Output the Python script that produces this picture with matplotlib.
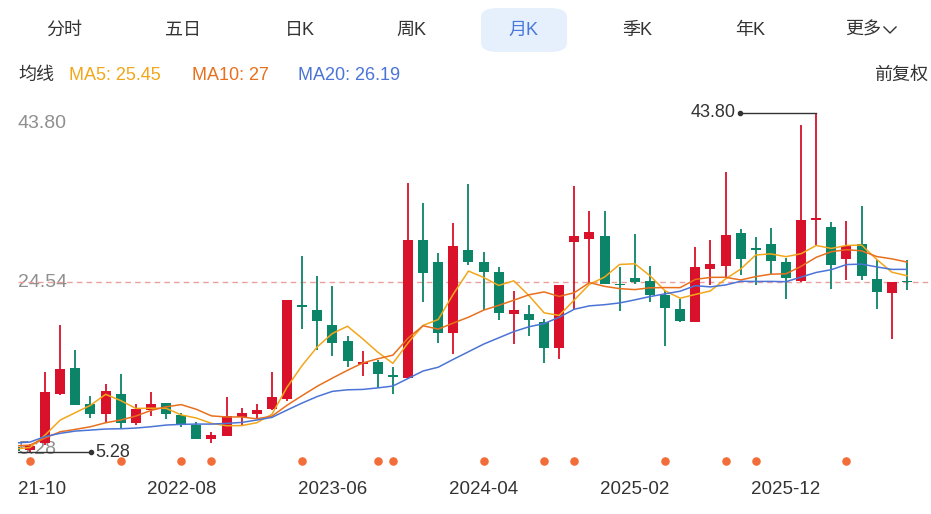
import matplotlib
matplotlib.use("Agg")
import matplotlib.pyplot as plt
import matplotlib.transforms as mtransforms
from matplotlib.patches import FancyBboxPatch
from matplotlib.lines import Line2D
import numpy as np
import pandas as pd

plt.rcParams['font.family'] = ['Liberation Sans', 'Noto Sans CJK SC', 'DejaVu Sans']

# monthly candles, first one (2021-09) is only half visible at the left edge
opens = [5.90, 5.51, 6.33, 11.85, 14.83, 10.75, 9.58, 11.88, 8.53, 10.04,
         10.80, 9.51, 8.30, 6.75, 7.13, 9.28, 9.62, 10.15, 11.25, 21.82,
         21.37, 19.70, 17.85, 15.25, 15.51, 13.86, 13.66, 29.38, 26.80, 18.76,
         28.24, 26.80, 25.67, 20.91, 20.99, 20.04, 17.03, 29.11, 29.49, 29.83,
         24.28, 25.03, 24.65, 23.10, 21.48, 20.04, 26.01, 26.39, 30.12, 28.28,
         28.92, 26.88, 24.65, 31.64, 30.80, 27.18, 28.92, 24.96, 23.33, 24.60]
highs = [6.10, 6.20, 14.34, 19.67, 16.91, 11.59, 12.95, 14.08, 10.72, 12.11,
         10.87, 9.73, 8.64, 7.55, 11.51, 10.23, 10.68, 14.31, 22.58, 27.56,
         25.30, 24.09, 18.42, 16.69, 15.67, 14.94, 35.79, 33.52, 27.90, 31.26,
         35.72, 27.94, 26.27, 23.55, 21.93, 20.35, 24.20, 35.49, 32.58, 32.58,
         26.27, 30.06, 26.39, 23.55, 22.69, 28.54, 29.30, 37.00, 30.54, 29.64,
         30.66, 27.34, 42.33, 43.80, 31.37, 31.45, 33.15, 27.03, 24.57, 27.03]
lows = [5.35, 5.28, 6.07, 11.77, 10.57, 9.17, 8.53, 7.89, 8.34, 9.39,
        9.05, 8.15, 6.72, 6.33, 7.13, 8.34, 8.98, 10.04, 11.09, 19.25,
        16.80, 16.23, 14.94, 13.92, 12.56, 11.82, 13.58, 22.31, 17.66, 16.35,
        26.46, 21.37, 20.31, 17.59, 18.46, 15.33, 15.85, 21.37, 24.46, 24.39,
        21.25, 24.39, 22.35, 17.29, 20.04, 20.04, 24.28, 25.14, 25.41, 24.28,
        25.52, 22.65, 24.57, 28.73, 23.82, 24.84, 24.77, 21.56, 18.16, 23.71]
closes = [5.45, 5.96, 12.04, 14.65, 10.64, 9.62, 12.16, 8.53, 10.19, 10.75,
          9.58, 8.42, 6.75, 7.17, 9.39, 9.66, 10.04, 11.51, 22.58, 21.72,
          20.20, 17.66, 15.59, 15.48, 14.15, 13.80, 29.30, 25.56, 18.76, 28.65,
          26.80, 25.67, 21.03, 21.37, 20.27, 17.03, 24.20, 29.83, 30.20, 24.39,
          24.20, 24.57, 23.10, 21.59, 20.20, 26.32, 26.58, 29.90, 27.18, 28.20,
          26.95, 24.99, 31.60, 31.82, 26.54, 28.62, 25.25, 23.44, 24.57, 24.54]

# moving averages before enough history is on screen
ma5_head = [5.62, 5.79, 7.21, 8.91]
ma10_head = [5.96, 6.07, 6.87, 7.58, 7.85, 8.15, 8.60, 8.91, 9.36]
ma20_head = [6.30, 6.41, 7.04, 7.40, 7.66, 7.77, 7.89, 7.92, 8.00, 8.15,
             8.34, 8.42, 8.45, 8.45, 8.53, 8.64, 8.91, 9.21, 10.04]

tick_months = ['2021-10', '2022-08', '2023-06', '2024-04', '2025-02', '2025-12']
tick_text = ['21-10', '2022-08', '2023-06', '2024-04', '2025-02', '2025-12']
signal_months = ['2021-10', '2022-04', '2022-08', '2022-10', '2023-04', '2023-09',
                 '2023-10', '2024-04', '2024-08', '2024-10', '2025-04', '2025-08',
                 '2025-10', '2026-04']

tabs = ['分时', '五日', '日K', '周K', '月K', '季K', '年K', '更多']
tab_x = [64, 183, 300, 411, 523, 637, 750, 863]
ma_text = ['MA5: 25.45', 'MA10: 27', 'MA20: 26.19']

RED = '#d9112a'
GREEN = '#0c8468'
C5, C10, C20 = '#f2a71b', '#e8701d', '#4b74d6'

W, H = 931, 514


def fx(px):
    return px / W


def fy(py):
    return 1 - py / H


months = list(pd.period_range('2021-09', periods=len(closes), freq='M').strftime('%Y-%m'))
x = np.arange(len(closes)) - 1
o = np.array(opens)
c = np.array(closes)
hi = np.array(highs)
lo = np.array(lows)

s = pd.Series(closes)
ma5 = s.rolling(5).mean().values
ma10 = s.rolling(10).mean().values
ma20 = s.rolling(20).mean().values
ma5[:len(ma5_head)] = ma5_head
ma10[:len(ma10_head)] = ma10_head
ma20[:len(ma20_head)] = ma20_head

fig = plt.figure(figsize=(W / 100, H / 100), dpi=100)
ax = fig.add_axes([fx(18), fy(505), fx(931) - fx(18), fy(100) - fy(505)])
ax.set_xlim((18 - 30) / 15.12, (931 - 30) / 15.12)
ax.set_ylim(-0.73, 45.22)
ax.axis('off')

# candles
up = c >= o
cols = np.where(up, RED, GREEN)
ax.vlines(x, lo, hi, colors=cols, lw=1.3, zorder=2)
body_lo = np.minimum(o, c)
body_h = np.maximum(np.abs(c - o), 0.2)
ax.bar(x, body_h, bottom=body_lo, width=0.66, color=cols, linewidth=0, zorder=2)

# MA lines
ax.plot(x, ma5, color=C5, lw=1.1, zorder=3)
ax.plot(x, ma10, color=C10, lw=1.1, zorder=3)
ax.plot(x, ma20, color=C20, lw=1.1, zorder=3)

# last price line
last = closes[-1]
ax.axhline(last, color='#eb9f9f', lw=1, ls=(0, (4, 3)), zorder=1)

# y labels: max, last, min
y_max = max(highs)
y_min = min(lows)
gray = '#8f8f8f'
ax.annotate(f'{y_max:.2f}', xy=(0, y_max), xycoords=('axes fraction', 'data'),
            xytext=(0, -11), textcoords='offset pixels', va='center', ha='left',
            fontsize=14, color=gray)
ax.annotate(f'{last:.2f}', xy=(0, last), xycoords=('axes fraction', 'data'),
            va='center', ha='left', fontsize=14, color=gray, zorder=0)
ax.annotate(f'{y_min:.2f}', xy=(0, y_min), xycoords=('axes fraction', 'data'),
            xytext=(0, 3), textcoords='offset pixels', va='center', ha='left',
            fontsize=14, color=gray, zorder=1)

# high / low markers
i_hi = int(np.argmax(hi))
i_lo = int(np.argmin(lo))
ax.plot([x[i_hi] - 5.05, x[i_hi]], [y_max, y_max], color='#333333', lw=1, zorder=4)
ax.plot([x[i_hi] - 5.05], [y_max], 'o', color='#333333', ms=3, zorder=4)
ax.text(x[i_hi] - 5.3, y_max, f'{y_max:.2f}', ha='right', va='center',
        fontsize=13, color='#333333')
ax.plot([x[i_lo] - 1, x[i_lo] + 4.05], [y_min, y_min], color='#333333', lw=1, zorder=4)
ax.plot([x[i_lo] + 4.05], [y_min], 'o', color='#333333', ms=3, zorder=4)
ax.text(x[i_lo] + 4.3, y_min, f'{y_min:.2f}', ha='left', va='center',
        fontsize=13, color='#333333')

# signal dots under the candles
bt = mtransforms.blended_transform_factory(ax.transData, ax.transAxes)
sig_x = [x[months.index(m)] for m in signal_months]
ax.scatter(sig_x, [(505 - 461) / 405] * len(sig_x), s=38, color='#f26d3a',
           transform=bt, zorder=3, linewidths=0)

# x labels; the first one is cut by the chart edge in the original
for m, t in zip(tick_months, tick_text):
    if t == m:
        ax.text(x[months.index(m)], (505 - 490) / 405, t, transform=bt, ha='center',
                va='center', fontsize=13.5, color='#333333')
    else:
        ax.text(0.0, (505 - 490) / 405, t, transform=ax.transAxes, ha='left',
                va='center', fontsize=13.5, color='#333333')

# tab bar
fig.patches.append(FancyBboxPatch((fx(481), fy(52)), fx(567) - fx(481), fy(8) - fy(52),
                                  boxstyle='round,pad=0,rounding_size=0.018',
                                  transform=fig.transFigure, facecolor='#e6f0fd',
                                  edgecolor='none'))
for t, px in zip(tabs, tab_x):
    col = '#4a78d8' if t == '月K' else '#333333'
    fig.text(fx(px), fy(30), t, ha='center', va='center', fontsize=13, color=col)
fig.lines.append(Line2D([fx(884), fx(890), fx(896)], [fy(27), fy(33), fy(27)],
                        transform=fig.transFigure, color='#333333', lw=1))

# MA legend row
fig.text(fx(18), fy(75), '均线', ha='left', va='center', fontsize=13, color='#333333')
for t, px, col in zip(ma_text, [69, 192, 298], [C5, C10, C20]):
    fig.text(fx(px), fy(75), t, ha='left', va='center', fontsize=13, color=col)
fig.text(fx(928), fy(75), '前复权', ha='right', va='center', fontsize=13, color='#333333')

fig.savefig('out.png', dpi=100)
